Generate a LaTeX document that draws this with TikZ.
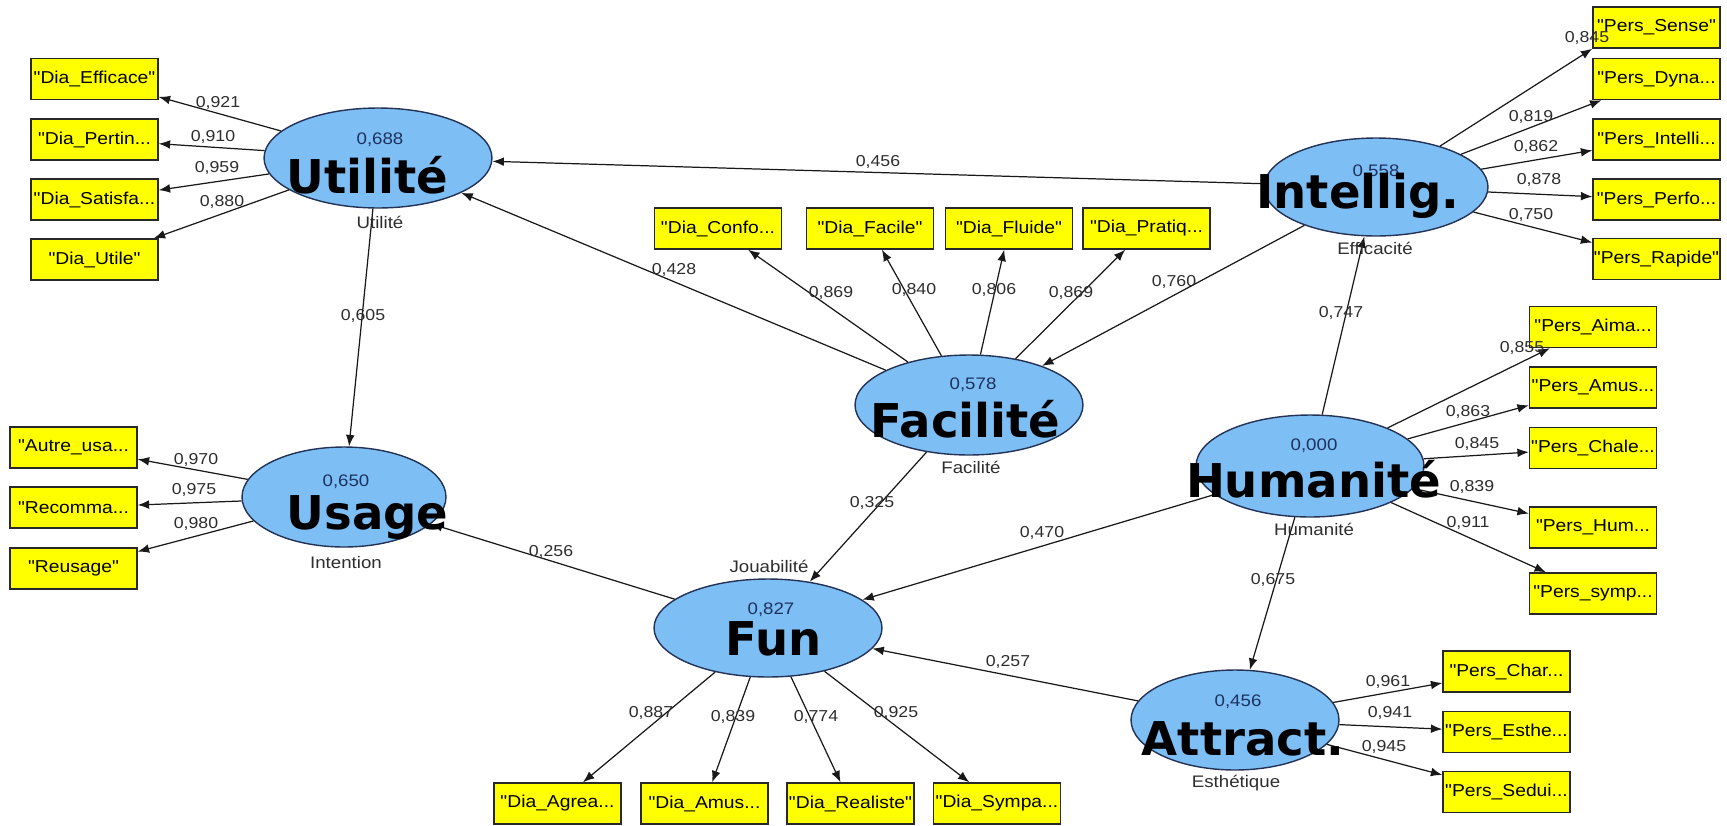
\documentclass[tikz,border=0pt]{standalone}
\usepackage{fontspec}
\newfontfamily\pls[FakeStretch=1.12]{Liberation Sans}
\newfontfamily\bigfont{DejaVu Sans}
\usetikzlibrary{shapes.geometric,arrows.meta,positioning}

\definecolor{lvfill}{RGB}{125,190,245}
\definecolor{lvline}{RGB}{35,50,85}
\definecolor{mvfill}{RGB}{255,255,0}
\definecolor{mvline}{RGB}{40,40,40}
\definecolor{edgec}{RGB}{25,25,25}
\definecolor{wtext}{RGB}{45,45,45}
\definecolor{rsqtext}{RGB}{30,50,95}

\tikzset{
  lv/.style={ellipse, draw=lvline, fill=lvfill, line width=0.8pt, inner sep=0pt},
  mv/.style={rectangle, draw=mvline, fill=mvfill, line width=0.8pt, inner sep=0pt,
    minimum width=2.54cm, minimum height=0.82cm, font=\pls\fontsize{9.8}{11}\selectfont},
  arr/.style={draw=edgec, line width=0.7pt, -{Latex[length=6.5pt,width=5pt]}},
  wt/.style={inner sep=0pt, text=wtext, font=\pls\fontsize{9}{10}\selectfont},
  rsq/.style={inner sep=0pt, text=rsqtext, font=\pls\fontsize{9.5}{10}\selectfont},
  lvname/.style={inner sep=0pt, text=wtext, font=\pls\fontsize{9.5}{10}\selectfont},
  tag/.style={inner sep=0pt, anchor=base, font=\bigfont\bfseries\fontsize{26.5}{28}\selectfont},
}

\begin{document}
\begin{tikzpicture}[x=0.02cm, y=-0.02cm]
  \useasboundingbox (0,0) rectangle (1727,825);

  % Define latent variables
  \node[lv, minimum width=4.56cm, minimum height=2cm] (util) at (378,158) {};%
  \node[lv, minimum width=4.48cm, minimum height=1.96cm] (intl) at (1376,187) {};%
  \node[lv, minimum width=4.56cm, minimum height=2cm] (facil) at (969,405) {};%
  \node[lv, minimum width=4.08cm, minimum height=2cm] (usage) at (344,497) {};%
  \node[lv, minimum width=4.56cm, minimum height=2.04cm] (human) at (1310,466) {};%
  \node[lv, minimum width=4.56cm, minimum height=1.96cm] (fun) at (768,628) {};%
  \node[lv, minimum width=4.16cm, minimum height=2cm] (attr) at (1235,720) {};%

  % Define indicators
  \node[mv] (effic) at (94.5,79) {"Dia\_Efficace"};%
  \node[mv] (pertin) at (94.5,139.5) {"Dia\_Pertin...};%
  \node[mv] (satisf) at (94.5,199.5) {"Dia\_Satisfa...};%
  \node[mv] (utile) at (94.5,259.5) {"Dia\_Utile"};%

  \node[mv] (autre) at (73.5,447.5) {"Autre\_usa...};%
  \node[mv] (recom) at (73.5,507.5) {"Recomma...};%
  \node[mv] (reuse) at (73.5,568.5) {"Reusage"};%

  \node[mv] (confo) at (718,228.5) {"Dia\_Confo...};%
  \node[mv] (facile) at (870,228.5) {"Dia\_Facile"};%
  \node[mv] (fluide) at (1009,228.5) {"Dia\_Fluide"};%
  \node[mv] (pratiq) at (1146.5,228.5) {"Dia\_Pratiq...};%

  \node[mv] (sense) at (1656.5,27.5) {"Pers\_Sense"};%
  \node[mv] (dyna) at (1656.5,79) {"Pers\_Dyna...};%
  \node[mv] (intel) at (1656.5,139.5) {"Pers\_Intelli...};%
  \node[mv] (perfo) at (1656.5,199.5) {"Pers\_Perfo...};%
  \node[mv] (rapide) at (1656.5,259) {"Pers\_Rapide"};%

  \node[mv] (aima) at (1593,327) {"Pers\_Aima...};%
  \node[mv] (amus) at (1593,387.5) {"Pers\_Amus...};%
  \node[mv] (chale) at (1593,448) {"Pers\_Chale...};%
  \node[mv] (hum) at (1593,527.5) {"Pers\_Hum...};%
  \node[mv] (symp) at (1593,593.5) {"Pers\_symp...};%

  \node[mv] (charm) at (1506.5,671.5) {"Pers\_Char...};%
  \node[mv] (esthe) at (1506.5,732) {"Pers\_Esthe...};%
  \node[mv] (sedui) at (1506.5,792) {"Pers\_Sedui...};%

  \node[mv] (agrea) at (557.5,803.5) {"Dia\_Agrea...};%
  \node[mv] (damus) at (704.5,803.5) {"Dia\_Amus...};%
  \node[mv] (realis) at (850.5,803.5) {"Dia\_Realiste"};%
  \node[mv] (sympa) at (997,803.5) {"Dia\_Sympa...};%

  % Outer model - latent to indicators
  \draw[arr] (util) -- (effic);
  \draw[arr] (util) -- (pertin);
  \draw[arr] (util) -- (satisf);
  \draw[arr] (util) -- (utile);
  \draw[arr] (usage) -- (autre);
  \draw[arr] (usage) -- (recom);
  \draw[arr] (usage) -- (reuse);
  \draw[arr] (facil) -- (confo);
  \draw[arr] (facil) -- (facile);
  \draw[arr] (facil) -- (fluide);
  \draw[arr] (facil) -- (pratiq);
  \draw[arr] (intl) -- (sense.south west);
  \draw[arr] (intl) -- (dyna);
  \draw[arr] (intl) -- (intel);
  \draw[arr] (intl) -- (perfo);
  \draw[arr] (intl) -- (rapide);
  \draw[arr] (human) -- (aima);
  \draw[arr] (human) -- (amus);
  \draw[arr] (human) -- (chale);
  \draw[arr] (human) -- (hum);
  \draw[arr] (human) -- (symp);
  \draw[arr] (attr) -- (charm);
  \draw[arr] (attr) -- (esthe);
  \draw[arr] (attr) -- (sedui);
  \draw[arr] (fun) -- (agrea);
  \draw[arr] (fun) -- (damus);
  \draw[arr] (fun) -- (realis);
  \draw[arr] (fun) -- (sympa);

  % Inner model - paths between latents
  \draw[arr] (intl) -- (util);
  \draw[arr] (facil) -- (util);
  \draw[arr] (intl) -- (facil);
  \draw[arr] (util) -- (usage);
  \draw[arr] (fun) -- (usage);
  \draw[arr] (facil) -- (fun);
  \draw[arr] (human) -- (fun);
  \draw[arr] (human) -- (intl);
  \draw[arr] (human) -- (attr);
  \draw[arr] (attr) -- (fun);

  % Loadings
  \node[wt] (w1) at (218,103) {0,921};
  \node[wt] (w2) at (213,137) {0,910};
  \node[wt] (w3) at (217,168) {0,959};
  \node[wt] (w4) at (222,202) {0,880};
  \node[wt] (w5) at (196,460) {0,970};
  \node[wt] (w6) at (194,490) {0,975};
  \node[wt] (w7) at (196,524) {0,980};
  \node[wt] (w8) at (831,293) {0,869};
  \node[wt] (w9) at (914,290) {0,840};
  \node[wt] (w10) at (994,290) {0,806};
  \node[wt] (w11) at (1071,293) {0,869};
  \node[wt] (w12) at (1587,38) {0,845};
  \node[wt] (w13) at (1531,117) {0,819};
  \node[wt] (w14) at (1536,147) {0,862};
  \node[wt] (w15) at (1539,180) {0,878};
  \node[wt] (w16) at (1531,215) {0,750};
  \node[wt] (w17) at (1522,348) {0,855};
  \node[wt] (w18) at (1468,412) {0,863};
  \node[wt] (w19) at (1477,444) {0,845};
  \node[wt] (w20) at (1472,487) {0,839};
  \node[wt] (w21) at (1468,523) {0,911};
  \node[wt] (w22) at (1388,682) {0,961};
  \node[wt] (w23) at (1390,713) {0,941};
  \node[wt] (w24) at (1384,747) {0,945};
  \node[wt] (w25) at (651,713) {0,887};
  \node[wt] (w26) at (733,717) {0,839};
  \node[wt] (w27) at (816,717) {0,774};
  \node[wt] (w28) at (896,713) {0,925};

  % Path coefficients
  \node[wt] (p1) at (878,162) {0,456};
  \node[wt] (p2) at (674,270) {0,428};
  \node[wt] (p3) at (1174,282) {0,760};
  \node[wt] (p4) at (363,316) {0,605};
  \node[wt] (p5) at (551,552) {0,256};
  \node[wt] (p6) at (872,503) {0,325};
  \node[wt] (p7) at (1042,533) {0,470};
  \node[wt] (p8) at (1341,313) {0,747};
  \node[wt] (p9) at (1273,580) {0,675};
  \node[wt] (p10) at (1008,662) {0,257};

  % R2 inside the latents
  \node[rsq] (r1) at (380,140) {0,688};
  \node[rsq] (r2) at (1376,172) {0,558};
  \node[rsq] (r3) at (973,385) {0,578};
  \node[rsq] (r4) at (346,482) {0,650};
  \node[rsq] (r5) at (1314,446) {0,000};
  \node[rsq] (r6) at (771,610) {0,827};
  \node[rsq] (r7) at (1238,702) {0,456};

  % Latent names
  \node[lvname] (n1) at (380,222) {Utilité};
  \node[lvname] (n2) at (1375,248) {Efficacité};
  \node[lvname] (n3) at (971,467) {Facilité};
  \node[lvname] (n4) at (346,563) {Intention};
  \node[lvname] (n5) at (1314,529) {Humanité};
  \node[lvname] (n6) at (769,566) {Jouabilité};
  \node[lvname] (n7) at (1236,783) {Esthétique};

  % Big tags over everything
  \node[tag] (t1) at (367.5,193) {Utilité};
  \node[tag] (t2) at (1358,208) {Intellig.};
  \node[tag] (t3) at (965.5,437) {Facilité};
  \node[tag] (t4) at (367.5,529) {Usage};
  \node[tag] (t5) at (1313.5,497) {Humanité};
  \node[tag] (t6) at (773.5,655) {Fun};
  \node[tag] (t7) at (1243,755) {Attract.};
\end{tikzpicture}
\end{document}
